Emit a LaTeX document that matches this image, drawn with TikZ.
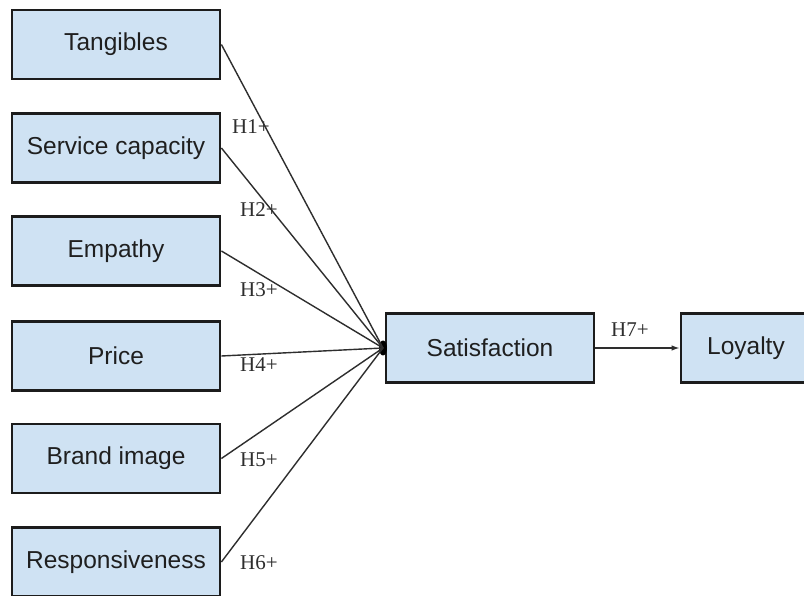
\documentclass[tikz,border=0pt]{standalone}
\usepackage{fontspec}
\setmainfont{Liberation Serif}
\newfontfamily\boxfont{Liberation Sans}
\usetikzlibrary{arrows.meta,shapes.geometric}
\definecolor{boxfill}{HTML}{CFE2F3}
\definecolor{boxline}{HTML}{1C1C1C}
\definecolor{linkline}{HTML}{2E2E2E}
\tikzset{
  construct/.style={draw=boxline, line width=2.8pt, fill=boxfill,
    minimum width=208pt, minimum height=69pt, inner sep=0pt,
    font=\boxfont\fontsize{24.5}{26}\selectfont, text=black!88},
  link/.style={draw=linkline, line width=1.4pt},
  hyp/.style={font=\fontsize{21}{23}\selectfont, text=black!82, anchor=west, inner sep=0pt},
}
\begin{document}
\begin{tikzpicture}[x=1pt, y=-1pt]
  \clip (0,0) rectangle (804,596);
  \fill[white] (0,0) rectangle (804,596);

  % independent constructs
  \node[construct] (tan) at (116,44.5)  {Tangibles};
  \node[construct] (ser) at (116,148)   {Service capacity};
  \node[construct] (emp) at (116,251)   {Empathy};
  \node[construct] (pri) at (116,356)   {Price};
  \node[construct] (bra) at (116,458.5) {Brand image};
  \node[construct] (res) at (116,562)   {Responsiveness};

  % mediator and outcome
  \node[construct] (sat) at (490,348) {Satisfaction};
  \node[construct, minimum width=130pt] (loy) at (746,348) {Loyalty};

  % junction where the paths meet
  \node[ellipse, fill=black, minimum width=8pt, minimum height=15pt, inner sep=0pt] (hub) at (383,348) {};

  \foreach \n in {tan,ser,emp,pri,bra,res}
    \draw[link] (\n.east) -- (hub.center);

  \draw[link, -{Latex[length=8pt,width=5.5pt]}] (sat.east) -- (loy.west);

  % hypothesis labels
  \node[hyp] (h1) at (232,127) {H1+};
  \node[hyp] (h2) at (240,210) {H2+};
  \node[hyp] (h3) at (240,290) {H3+};
  \node[hyp] (h4) at (240,365) {H4+};
  \node[hyp] (h5) at (240,460) {H5+};
  \node[hyp] (h6) at (240,563) {H6+};
  \node[hyp] (h7) at (611,330) {H7+};
\end{tikzpicture}
\end{document}
